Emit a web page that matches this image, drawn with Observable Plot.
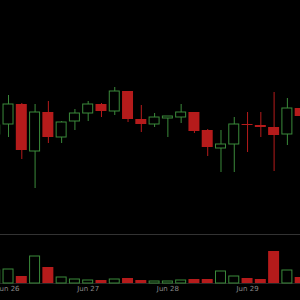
<!DOCTYPE html>
<html>
<head>
<meta charset="utf-8">
<script src="https://cdn.jsdelivr.net/npm/d3@7"></script>
<script src="https://cdn.jsdelivr.net/npm/@observablehq/plot@0.6"></script>
<style>
  html, body { margin: 0; padding: 0; background: #000; overflow: hidden; }
  #chart { width: 300px; height: 300px; background: #000; }
  #chart svg { display: block; }
</style>
</head>
<body>
<div id="chart"></div>
<script>
// 4-hour candles, starting Jun 25 20:00 UTC
const times = [
  "2016-06-25T20:00Z","2016-06-26T00:00Z","2016-06-26T04:00Z","2016-06-26T08:00Z",
  "2016-06-26T12:00Z","2016-06-26T16:00Z","2016-06-26T20:00Z","2016-06-27T00:00Z",
  "2016-06-27T04:00Z","2016-06-27T08:00Z","2016-06-27T12:00Z","2016-06-27T16:00Z",
  "2016-06-27T20:00Z","2016-06-28T00:00Z","2016-06-28T04:00Z","2016-06-28T08:00Z",
  "2016-06-28T12:00Z","2016-06-28T16:00Z","2016-06-28T20:00Z","2016-06-29T00:00Z",
  "2016-06-29T04:00Z","2016-06-29T08:00Z","2016-06-29T12:00Z","2016-06-29T16:00Z"
];
const opens  = [566,576,596,549,588,563,579,587,596,589,609,581,576,582,583,588,570,552,556,576,575,573,566,592];
const closes = [575,596,550,588,563,578,587,596,589,609,581,576,583,584,588,569,553,556,576,575,573,565,592,584];
const highs  = [578,605,597,596,599,579,591,599,597,613,609,595,587,584,596,588,571,570,583,588,588,608,602,593];
const lows   = [563,563,541,512,557,557,570,579,583,585,578,568,573,563,577,567,544,528,528,548,563,529,555,583];
const volumes = [260,280,140,540,320,120,80,60,60,80,100,60,40,40,60,80,80,240,140,100,80,640,260,120];
const tickDates = ["2016-06-26T00:00Z","2016-06-27T00:00Z","2016-06-28T00:00Z","2016-06-29T00:00Z"];

const GREEN = "#3b8a3b";
const RED = "#b51b1b";
const HOUR = 3600 * 1000;

const data = times.map((t, i) => ({
  t: new Date(t), open: opens[i], close: closes[i], high: highs[i], low: lows[i],
  vol: volumes[i], up: closes[i] >= opens[i]
}));
const up = data.filter(d => d.up);
const down = data.filter(d => !d.up);

const xDomain = [new Date("2016-06-25T21:35Z"), new Date("2016-06-29T15:57Z")];
const x1 = d => new Date(+d.t - 2 * HOUR);
const x2 = d => new Date(+d.t + 2 * HOUR);

const price = Plot.plot({
  width: 300, height: 230,
  margin: 0,
  style: {background: "#000"},
  x: {type: "utc", domain: xDomain, axis: null},
  y: {domain: [470, 700], axis: null},
  marks: [
    Plot.ruleX(data, {x: "t", y1: "low", y2: "high", stroke: d => d.up ? GREEN : RED, strokeWidth: 1}),
    Plot.rect(down, {x1, x2, y1: "open", y2: "close", fill: RED, insetLeft: 1.15, insetRight: 1.15}),
    Plot.rect(up, {x1, x2, y1: "open", y2: "close", fill: "#000", stroke: GREEN, strokeWidth: 1, insetLeft: 1.65, insetRight: 1.65})
  ]
});

const volume = Plot.plot({
  width: 300, height: 70,
  marginTop: 4, marginBottom: 17, marginLeft: 0, marginRight: 0,
  style: {background: "#000", overflow: "hidden"},
  x: {type: "utc", domain: xDomain},
  y: {domain: [0, 980], axis: null},
  marks: [
    Plot.frame({anchor: "top", stroke: "#333"}),
    Plot.frame({anchor: "bottom", stroke: "#262626"}),
    Plot.rect(down, {x1, x2, y1: 0, y2: "vol", fill: RED, insetLeft: 1.15, insetRight: 1.15}),
    Plot.rect(up, {x1, x2, y1: 0, y2: "vol", fill: "#000", stroke: GREEN, strokeWidth: 1, insetLeft: 1.65, insetRight: 1.65}),
    Plot.axisX({
      ticks: tickDates.map(d => new Date(d)),
      tickFormat: d3.utcFormat("%b %d"),
      tickSize: 0, tickPadding: 3,
      fill: "#8a8a8a", fontSize: 7, fontFamily: "DejaVu Sans"
    })
  ]
});

const chart = document.getElementById("chart");
chart.appendChild(price);
chart.appendChild(volume);
</script>
</body>
</html>
